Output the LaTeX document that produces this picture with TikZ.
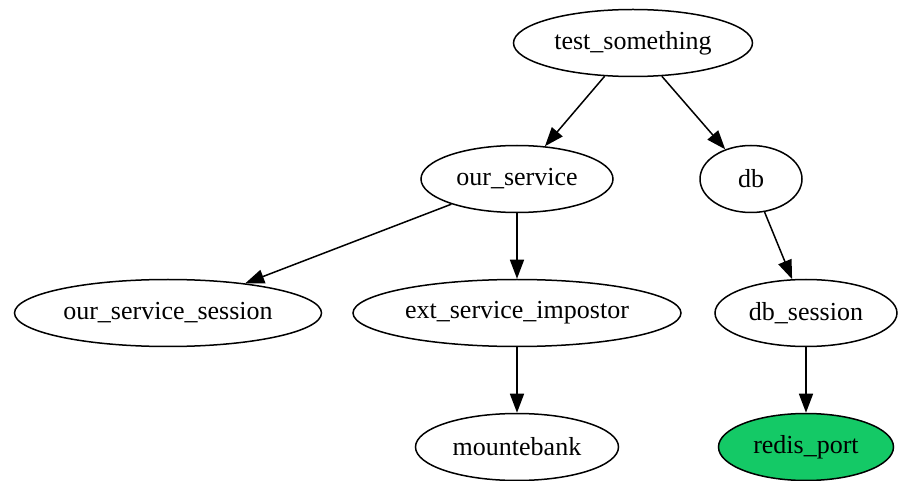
\documentclass[tikz,border=0pt]{standalone}
\usepackage{fontspec}
\setmainfont{Liberation Serif}
\usepackage{xcolor}
\usepackage{tikz}
\usetikzlibrary{arrows.meta,shapes.geometric}
\definecolor{redisgreen}{HTML}{14C966}

\begin{document}
\begin{tikzpicture}[
          x=1pt,y=-1pt,
          every node/.style={font=\fontsize{26}{30}\selectfont},
          fix/.style={draw,ellipse,line width=1.5pt,inner sep=0pt,
                      minimum height=67pt},
          arr/.style={-{Triangle[length=19pt,width=14pt]},line width=1.5pt},
      ]
        \useasboundingbox (0,0) rectangle (898,481);
        \node[fix,minimum width=239pt] (test) at (633,43) {test\_something};
        \node[fix,minimum width=192pt] (svc) at (517,179) {our\_service};
        \node[fix,minimum width=102pt] (db) at (751,179) {db};
        \node[fix,minimum width=307pt] (svcsess) at (168,313) {our\_service\_session};
        \node[fix,minimum width=328pt] (ext) at (517,313) {ext\_service\_impostor};
        \node[fix,minimum width=182pt] (dbsess) at (806,313) {db\_session};
        \node[fix,minimum width=203pt] (mb) at (517,447) {mountebank};
        \node[fix,minimum width=175pt,fill=redisgreen] (redis) at (806,447) {redis\_port};
        \draw[arr] (test) -- (svc);
        \draw[arr] (test) -- (db);
        \draw[arr] (svc) -- (svcsess);
        \draw[arr] (svc) -- (ext);
        \draw[arr] (db) -- (dbsess);
        \draw[arr] (ext) -- (mb);
        \draw[arr] (dbsess) -- (redis);
      \end{tikzpicture}
\end{document}
